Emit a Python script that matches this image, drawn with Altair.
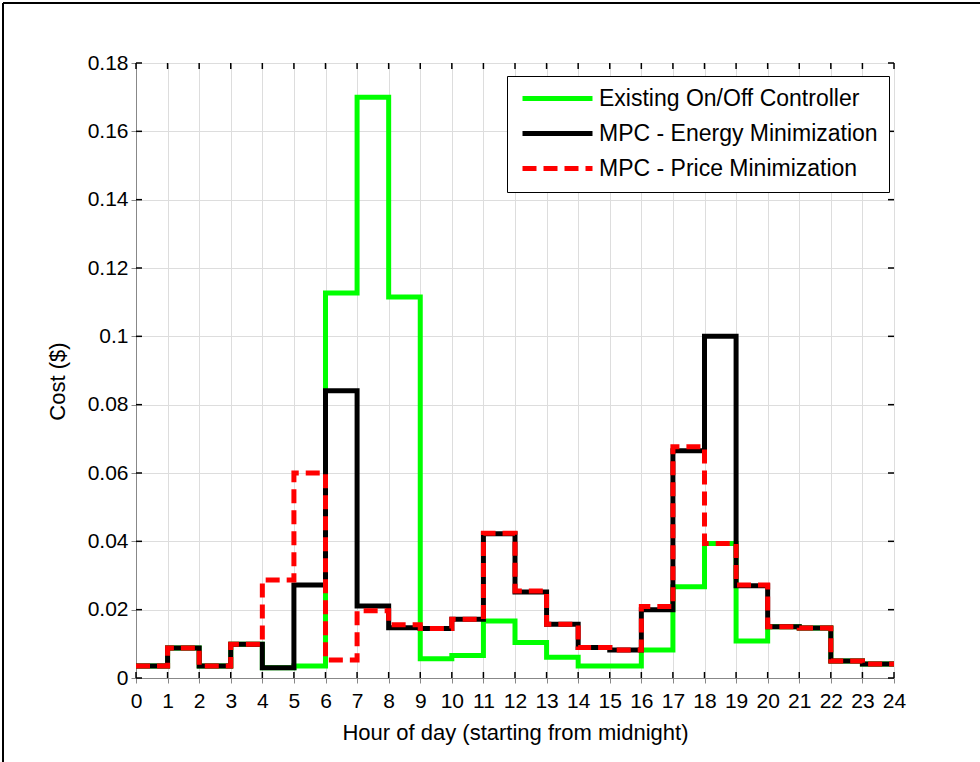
import altair as alt
import pandas as pd

# Hourly cost of the three control strategies (value holds for the whole hour)
hours = list(range(24))
existing_onoff = [0.0035, 0.0088, 0.0035, 0.0099, 0.0030, 0.0035, 0.1127, 0.1700,
                  0.1115, 0.0056, 0.0066, 0.0167, 0.0104, 0.0061, 0.0035, 0.0035,
                  0.0082, 0.0267, 0.0394, 0.0108, 0.0150, 0.0146, 0.0050, 0.0041]
mpc_energy = [0.0035, 0.0088, 0.0035, 0.0099, 0.0030, 0.0272, 0.0841, 0.0211,
              0.0147, 0.0145, 0.0172, 0.0422, 0.0252, 0.0157, 0.0089, 0.0082,
              0.0200, 0.0665, 0.1000, 0.0270, 0.0150, 0.0146, 0.0050, 0.0041]
mpc_price = [0.0035, 0.0088, 0.0035, 0.0099, 0.0287, 0.0600, 0.0053, 0.0197,
             0.0156, 0.0145, 0.0172, 0.0424, 0.0255, 0.0157, 0.0089, 0.0082,
             0.0209, 0.0677, 0.0394, 0.0272, 0.0150, 0.0146, 0.0050, 0.0041]

series_names = ["Existing On/Off Controller", "MPC - Energy Minimization",
                "MPC - Price Minimization"]
series_colors = ["#00ff00", "#000000", "#ff0000"]
series_dash = [[1, 0], [1, 0], [14, 7]]

x_ticks = list(range(25))
y_ticks = [0, 0.02, 0.04, 0.06, 0.08, 0.1, 0.12, 0.14, 0.16, 0.18]

W, H = 758, 615
FONT = "Liberation Sans"

rows = []
for name, vals in zip(series_names, [existing_onoff, mpc_energy, mpc_price]):
    # repeat the last value at hour 24 so the final step is drawn to the end
    for h, v in zip(hours + [24], vals + [vals[-1]]):
        rows.append({"series": name, "hour": h, "cost": v})
df = pd.DataFrame(rows)

x_scale = alt.Scale(domain=[0, 24], nice=False, zero=False)
y_scale = alt.Scale(domain=[0, 0.18], nice=False)

x_axis = alt.Axis(values=x_ticks, title="Hour of day (starting from midnight)",
                  labelFontSize=21, labelPadding=7, titlePadding=11,
                  titleFontSize=22, titleFontWeight="normal",
                  labelAngle=0, labelFlush=False)
y_axis = alt.Axis(values=y_ticks, title="Cost ($)", labelExpr="format(datum.value, '.2~f')",
                  labelFontSize=21, labelPadding=3, titlePadding=18,
                  titleFontSize=22, titleFontWeight="normal", titleY=318)

color = alt.Color("series:N", scale=alt.Scale(domain=series_names, range=series_colors),
                  legend=alt.Legend(title=None, orient="none", legendX=371, legendY=13,
                                    fillColor="white", strokeColor="black",
                                    padding=11, rowPadding=11, labelLimit=400,
                                    labelFont=FONT, labelFontSize=23, labelColor="black",
                                    symbolType="M-7,0H7", symbolSize=100,
                                    symbolStrokeWidth=5, symbolOffset=28,
                                    labelOffset=30))
dash = alt.StrokeDash("series:N", scale=alt.Scale(domain=series_names, range=series_dash),
                      legend=None)

base = alt.Chart(df)


def step_layer(name):
    return base.transform_filter(alt.datum.series == name).mark_line(
        interpolate="step-after", strokeWidth=5, strokeCap="butt", strokeJoin="miter"
    ).encode(
        x=alt.X("hour:Q", scale=x_scale, axis=x_axis),
        y=alt.Y("cost:Q", scale=y_scale, axis=y_axis),
        color=color,
        strokeDash=dash,
    )


lines = [step_layer(n) for n in series_names]

# inward tick marks on all four sides of the box
xt = alt.Chart(pd.DataFrame({"hour": x_ticks}))
yt = alt.Chart(pd.DataFrame({"cost": y_ticks}))
tick_style = dict(color="black", strokeWidth=1.5)
ticks = [
    xt.mark_rule(**tick_style).encode(x=alt.X("hour:Q", scale=x_scale, axis=x_axis),
                                      y=alt.value(H), y2=alt.value(H - 6)),
    xt.mark_rule(**tick_style).encode(x=alt.X("hour:Q", scale=x_scale, axis=x_axis),
                                      y=alt.value(0), y2=alt.value(6)),
    yt.mark_rule(**tick_style).encode(y=alt.Y("cost:Q", scale=y_scale, axis=y_axis),
                                      x=alt.value(0), x2=alt.value(6)),
    yt.mark_rule(**tick_style).encode(y=alt.Y("cost:Q", scale=y_scale, axis=y_axis),
                                      x=alt.value(W - 6), x2=alt.value(W)),
]

# figure frame (top and left edges)
one = alt.Chart(pd.DataFrame({"k": [0]}))
frame = [
    one.mark_rule(color="black", strokeWidth=2).encode(
        x=alt.value(-133), x2=alt.value(W + 100), y=alt.value(-60)),
    one.mark_rule(color="black", strokeWidth=2).encode(
        x=alt.value(-133), y=alt.value(-60), y2=alt.value(H + 100)),
]

chart = alt.layer(*lines, *ticks, *frame).properties(
    width=W, height=H,
    autosize=alt.AutoSizeParams(type="none"),
    padding={"left": 136, "top": 63, "right": 86, "bottom": 84},
).configure_view(
    stroke="black", strokeWidth=1.5
).configure_axis(
    domain=False, ticks=False, tickSize=0, grid=True,
    gridColor="#707070", gridWidth=1, gridOpacity=1,
    labelFont=FONT, titleFont=FONT, labelColor="black", titleColor="black",
    titleFontWeight="normal",
).configure(background="white")

chart.save("out.html", embed_options={"renderer": "svg", "actions": False})
